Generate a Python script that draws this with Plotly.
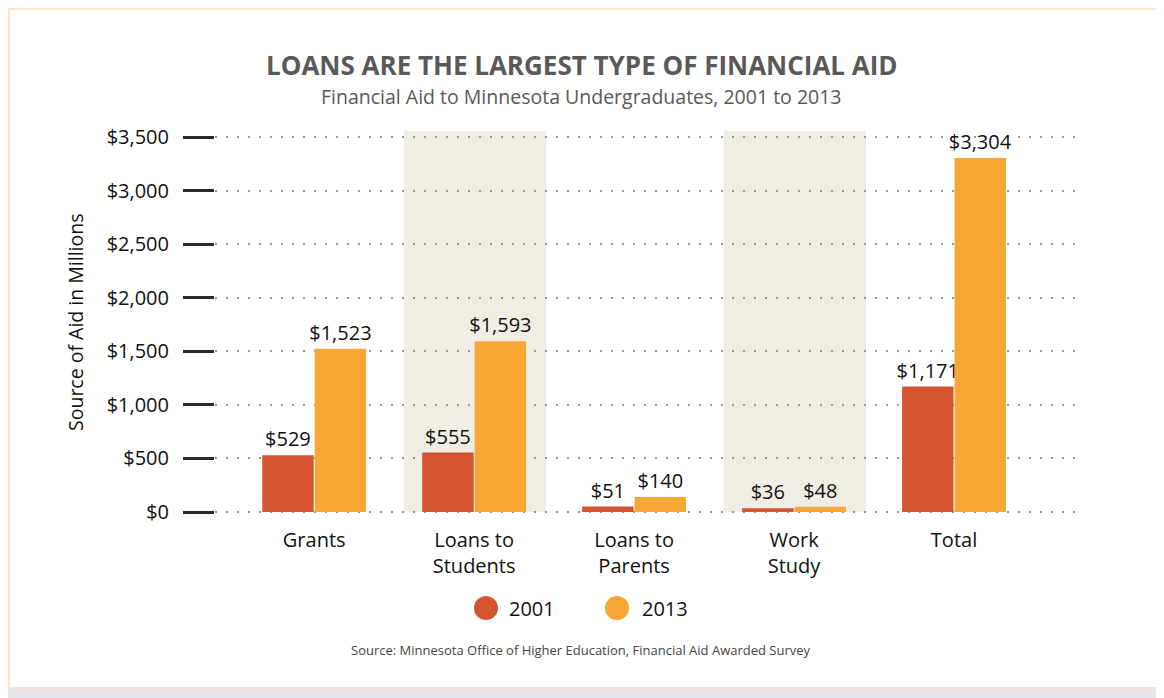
import plotly.graph_objects as go

categories = ["Grants", "Loans to<br>Students", "Loans to<br>Parents", "Work<br>Study", "Total"]
values_2001 = [529, 555, 51, 36, 1171]
values_2013 = [1523, 1593, 140, 48, 3304]
series_names = ["2001", "2013"]
y_ticks = [0, 500, 1000, 1500, 2000, 2500, 3000, 3500]
y_tick_labels = ["$0", "$500", "$1,000", "$1,500", "$2,000", "$2,500", "$3,000", "$3,500"]
shaded_categories = [1, 3]

C2001 = "#d55430"
C2013 = "#f8a634"
FONT = "Open Sans"

# page offset (browser body margin)
OFF = 8
# plot area in screen pixels (0 -> 512px, 3500 -> 137px, padded by 2px each side)
L, R, T, B = 215, 1082, 135, 514
Y_PAD = 2 * 3500 / 375
W, H = 1164, 698
pw, ph = R - L, B - T

def px(x):
    return (x - L) / pw

def py(y):
    return (B - y) / ph

fig = go.Figure()
for name, vals, col in [(series_names[0], values_2001, C2001), (series_names[1], values_2013, C2013)]:
    fig.add_trace(go.Bar(
        x=categories, y=vals, name=name, marker=dict(color=col, line=dict(width=0)),
        texttemplate="$%{y:,}", textposition="outside", cliponaxis=False,
        constraintext="none",
        textfont=dict(family=FONT, size=20, color="#111"), showlegend=False,
        hoverinfo="skip",
    ))

shapes = []
for ci in shaded_categories:
    shapes.append(dict(type="rect", xref="x", yref="paper", x0=ci - 0.44, x1=ci + 0.45,
                       y0=py(512), y1=py(131), fillcolor="#f0ede5", line=dict(width=0), layer="below"))
# frame and shadow
shapes.append(dict(type="rect", xref="paper", yref="paper", x0=px(1162), x1=px(1170),
                   y0=py(705), y1=py(9), fillcolor="#e6e6e8", line=dict(width=0), layer="below"))
shapes.append(dict(type="rect", xref="paper", yref="paper", x0=px(0), x1=px(1170),
                   y0=py(705), y1=py(689), fillcolor="#e6e6e8", line=dict(width=0), layer="below"))
shapes.append(dict(type="rect", xref="paper", yref="paper", x0=px(9), x1=px(1161),
                   y0=py(688), y1=py(9), fillcolor="rgba(0,0,0,0)",
                   line=dict(color="#fbe6d0", width=2), layer="below"))

annotations = [
    dict(text="<b>LOANS ARE THE LARGEST TYPE OF FINANCIAL AID</b>", xref="paper", yref="paper",
         x=px(582), y=py(65), xanchor="center", yanchor="middle", showarrow=False,
         font=dict(family=FONT, size=26, color="#595959")),
    dict(text="Financial Aid to Minnesota Undergraduates, 2001 to 2013", xref="paper", yref="paper",
         x=px(581), y=py(96), xanchor="center", yanchor="middle", showarrow=False,
         font=dict(family=FONT, size=19.5, color="#595959")),
    dict(text="Source of Aid in Millions", xref="paper", yref="paper", textangle=-90,
         x=px(75), y=py(323), xanchor="center", yanchor="middle", showarrow=False,
         font=dict(family=FONT, size=19.5, color="#111")),
    dict(text="Source: Minnesota Office of Higher Education, Financial Aid Awarded Survey",
         xref="paper", yref="paper", x=px(581), y=py(650), xanchor="center", yanchor="middle",
         showarrow=False, font=dict(family=FONT, size=13, color="#444")),
]

# legend drawn as circles + labels
legend_items = [(series_names[0], C2001, 486, 507), (series_names[1], C2013, 617, 640)]
for name, col, cx, tx in legend_items:
    shapes.append(dict(type="circle", xref="paper", yref="paper", xsizemode="pixel",
                       ysizemode="pixel", xanchor=px(cx), yanchor=py(608),
                       x0=-12, x1=12, y0=-12, y1=12, fillcolor=col, line=dict(width=0)))
    annotations.append(dict(text=name, xref="paper", yref="paper", x=px(tx), y=py(608),
                            xanchor="left", yanchor="middle", showarrow=False,
                            font=dict(family=FONT, size=20, color="#111")))

fig.update_layout(
    width=W - OFF, height=H - OFF,
    margin=dict(l=L - OFF, r=W - R, t=T - OFF, b=H - B, autoexpand=False),
    paper_bgcolor="white", plot_bgcolor="rgba(0,0,0,0)",
    barmode="group", bargap=0.344, bargroupgap=0.02,
    font=dict(family=FONT, color="#111"),
    shapes=shapes, annotations=annotations,
    showlegend=False,
)
fig.update_xaxes(range=[-0.62, 4.8], showgrid=False, showline=False, zeroline=False,
                 ticks="", tickfont=dict(family=FONT, size=20, color="#111"),
                 ticklabelstandoff=12, fixedrange=True)
fig.update_yaxes(range=[-Y_PAD, 3500 + Y_PAD], tickvals=y_ticks, ticktext=y_tick_labels,
                 showgrid=True, gridcolor="#9a9a9a", gridwidth=2.2, griddash="2px,9px",
                 zeroline=False, showline=False, ticks="outside", ticklen=31, tickwidth=2.5,
                 tickcolor="#2a2a2a", ticklabelstandoff=10,
                 tickfont=dict(family=FONT, size=20, color="#111"), fixedrange=True)

fig.write_html("out.html")
